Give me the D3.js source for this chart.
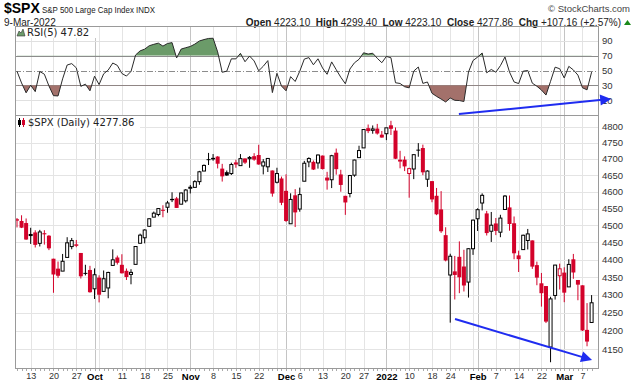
<!DOCTYPE html>
<html><head><meta charset="utf-8">
<script src="https://cdn.jsdelivr.net/npm/d3@7"></script>
<style>
html,body{margin:0;padding:0;background:#fff;}
svg{display:block;}
</style></head><body>
<svg id="chart" width="638" height="384"></svg>
<script>
// ---------------- DATA ----------------
const dates = [
"2021-09-08","2021-09-09","2021-09-10","2021-09-13","2021-09-14","2021-09-15","2021-09-16","2021-09-17","2021-09-20","2021-09-21","2021-09-22","2021-09-23","2021-09-24","2021-09-27","2021-09-28","2021-09-29","2021-09-30",
"2021-10-01","2021-10-04","2021-10-05","2021-10-06","2021-10-07","2021-10-08","2021-10-11","2021-10-12","2021-10-13","2021-10-14","2021-10-15","2021-10-18","2021-10-19","2021-10-20","2021-10-21","2021-10-22","2021-10-25","2021-10-26","2021-10-27","2021-10-28","2021-10-29",
"2021-11-01","2021-11-02","2021-11-03","2021-11-04","2021-11-05","2021-11-08","2021-11-09","2021-11-10","2021-11-11","2021-11-12","2021-11-15","2021-11-16","2021-11-17","2021-11-18","2021-11-19","2021-11-22","2021-11-23","2021-11-24","2021-11-26","2021-11-29","2021-11-30",
"2021-12-01","2021-12-02","2021-12-03","2021-12-06","2021-12-07","2021-12-08","2021-12-09","2021-12-10","2021-12-13","2021-12-14","2021-12-15","2021-12-16","2021-12-17","2021-12-20","2021-12-21","2021-12-22","2021-12-23","2021-12-27","2021-12-28","2021-12-29","2021-12-30","2021-12-31",
"2022-01-03","2022-01-04","2022-01-05","2022-01-06","2022-01-07","2022-01-10","2022-01-11","2022-01-12","2022-01-13","2022-01-14","2022-01-18","2022-01-19","2022-01-20","2022-01-21","2022-01-24","2022-01-25","2022-01-26","2022-01-27","2022-01-28","2022-01-31",
"2022-02-01","2022-02-02","2022-02-03","2022-02-04","2022-02-07","2022-02-08","2022-02-09","2022-02-10","2022-02-11","2022-02-14","2022-02-15","2022-02-16","2022-02-17","2022-02-18","2022-02-22","2022-02-23","2022-02-24","2022-02-25","2022-02-28",
"2022-03-01","2022-03-02","2022-03-03","2022-03-04","2022-03-07","2022-03-08","2022-03-09"];

const opens = [
4518.09,4513.02,4506.92,4474.81,4479.33,4447.49,4477.09,4469.74,4402.95,4374.45,4367.43,4406.75,4438.04,4442.12,4419.54,4362.41,4370.67,
4317.16,4348.84,4309.87,4319.57,4383.73,4406.51,4385.44,4368.31,4358.01,4386.75,4447.69,4463.72,4497.34,4524.42,4532.24,4546.12,4553.69,4578.69,4580.22,4562.84,4572.87,
4610.62,4613.34,4630.65,4662.93,4699.26,4701.48,4707.25,4670.26,4659.39,4655.24,4689.30,4679.42,4701.50,4700.72,4708.44,4712.00,4678.48,4675.78,4664.63,4628.75,4640.25,
4602.82,4504.73,4589.49,4548.37,4631.97,4690.86,4691.00,4687.64,4710.30,4642.99,4636.46,4719.13,4652.50,4587.90,4594.96,4650.36,4703.96,4733.99,4795.49,4788.64,4794.23,4775.21,
4778.14,4804.51,4787.99,4693.39,4697.66,4655.34,4669.14,4728.59,4733.56,4637.99,4632.24,4588.03,4547.35,4471.38,4356.32,4366.64,4408.43,4380.58,4336.19,4431.79,
4519.57,4566.39,4535.41,4482.79,4505.75,4480.02,4547.00,4553.24,4506.27,4412.61,4429.28,4455.75,4456.06,4384.57,4332.74,4324.93,4155.77,4298.38,4354.17,
4363.14,4322.56,4401.31,4342.12,4327.01,4202.66,4223.10];

const highs = [
4521.79,4529.90,4520.47,4492.99,4485.68,4486.87,4485.87,4471.52,4402.95,4394.87,4416.75,4465.40,4463.12,4457.30,4419.54,4385.57,4382.55,
4375.19,4355.51,4369.23,4365.57,4429.97,4412.02,4415.88,4374.89,4372.87,4439.73,4475.82,4488.75,4520.40,4540.87,4551.44,4559.67,4572.62,4598.53,4584.57,4597.55,4608.08,
4620.34,4635.15,4663.46,4683.00,4718.50,4714.92,4708.53,4684.85,4664.55,4688.47,4697.42,4714.95,4701.50,4708.80,4717.75,4743.83,4699.39,4702.87,4664.63,4672.95,4646.02,
4652.94,4595.46,4608.03,4612.60,4694.04,4705.06,4695.26,4713.57,4710.30,4660.47,4712.60,4731.99,4666.70,4587.90,4651.14,4697.67,4740.74,4791.49,4807.02,4804.06,4808.93,4786.83,
4796.64,4818.62,4797.70,4725.01,4707.95,4673.02,4714.13,4748.83,4744.13,4665.13,4632.24,4611.55,4602.11,4494.52,4417.35,4411.01,4453.23,4428.74,4432.72,4516.89,
4550.49,4595.31,4542.88,4539.66,4521.86,4531.32,4590.03,4588.92,4526.33,4426.22,4472.77,4489.55,4456.06,4394.60,4362.12,4325.04,4294.73,4385.34,4388.84,
4378.45,4401.48,4416.78,4342.12,4327.01,4276.94,4299.40];

const lows = [
4493.95,4492.07,4457.66,4445.70,4435.46,4438.37,4443.80,4427.76,4305.91,4347.96,4367.43,4406.75,4430.27,4436.19,4346.33,4355.08,4306.24,
4288.52,4278.94,4309.87,4290.49,4383.73,4386.22,4360.59,4342.09,4329.92,4386.75,4447.69,4447.47,4496.41,4524.40,4526.89,4524.00,4537.36,4569.17,4551.66,4562.84,4567.59,
4595.06,4613.34,4621.19,4662.59,4681.32,4694.39,4670.87,4630.86,4648.31,4650.77,4672.86,4679.42,4684.41,4672.78,4694.22,4682.17,4652.66,4659.89,4585.43,4625.26,4560.00,
4510.27,4504.73,4495.12,4540.51,4631.97,4674.52,4665.98,4670.24,4667.60,4606.52,4611.22,4651.89,4600.22,4531.10,4583.16,4645.53,4703.96,4733.99,4780.04,4778.08,4775.33,4765.75,
4758.17,4774.27,4699.44,4671.26,4662.74,4582.24,4638.27,4706.71,4650.29,4614.75,4568.70,4530.20,4477.95,4395.34,4222.62,4287.11,4304.80,4309.50,4292.46,4414.02,
4483.53,4544.32,4470.39,4451.50,4471.47,4465.40,4547.00,4484.31,4401.41,4364.84,4429.28,4429.68,4373.81,4327.22,4267.11,4221.51,4114.65,4286.83,4315.12,
4279.54,4322.56,4345.56,4284.98,4199.85,4157.87,4223.10];

const closes = [
4514.07,4493.28,4458.58,4468.73,4443.05,4480.70,4473.75,4432.99,4357.73,4354.19,4395.64,4448.98,4455.48,4443.11,4352.63,4359.46,4307.54,
4357.04,4300.46,4345.72,4363.55,4399.76,4391.34,4361.19,4350.65,4363.80,4438.26,4471.37,4486.46,4519.63,4536.19,4549.78,4544.90,4566.48,4574.79,4551.68,4596.42,4605.38,
4613.67,4630.65,4660.57,4680.06,4697.53,4701.70,4685.25,4646.71,4649.27,4682.85,4682.80,4700.90,4688.67,4704.54,4697.96,4682.94,4690.70,4701.46,4594.62,4655.27,4567.00,
4513.04,4577.10,4538.43,4591.67,4686.75,4701.21,4667.45,4712.02,4668.97,4634.09,4709.85,4668.67,4620.64,4568.02,4649.23,4696.56,4725.79,4791.19,4786.35,4793.06,4778.73,4766.18,
4796.56,4793.54,4700.58,4696.05,4677.03,4670.29,4713.07,4726.35,4659.03,4662.85,4577.11,4532.76,4482.73,4397.94,4410.13,4356.45,4349.93,4326.51,4431.85,4515.55,
4546.54,4589.38,4477.44,4500.53,4483.87,4521.54,4587.18,4504.08,4418.64,4401.67,4471.07,4475.01,4380.26,4348.87,4304.76,4225.50,4288.70,4384.65,4373.94,
4306.26,4386.54,4363.49,4328.87,4201.09,4170.70,4277.86];

const prevClose = 4520.03; // close of the session before the first bar

const rsi5 = [
48.9,33.2,19.9,30.1,21.5,48.6,45.0,29.2,16.1,15.7,38.7,57.4,59.3,53.6,28.6,31.6,22.6,
42.3,31.0,45.5,50.6,60.1,56.9,46.0,42.5,48.7,70.9,76.5,78.8,83.4,85.3,86.9,82.9,86.4,87.6,66.9,78.9,80.7,
82.4,85.6,89.8,91.7,93.2,93.5,75.1,47.6,49.1,65.7,65.7,73.1,61.8,69.5,62.9,49.6,55.7,63.3,20.2,46.2,29.0,
22.6,41.7,35.2,49.0,65.4,67.4,57.7,65.8,53.4,44.9,61.6,51.1,40.9,32.1,52.0,60.4,65.1,73.9,72.2,73.3,66.5,60.5,
69.0,67.2,33.5,32.5,28.1,26.6,49.2,54.7,32.6,34.5,19.3,15.1,11.5,7.6,12.9,9.8,9.5,8.2,47.9,63.5,
68.0,73.6,46.9,51.4,47.7,56.5,68.2,47.9,34.6,32.4,49.1,50.0,32.9,28.8,23.7,16.9,35.4,54.5,52.4,
39.9,55.6,50.8,43.8,26.7,23.9,47.8];

const xTickDates  = ["2021-09-13","2021-09-20","2021-09-27","2021-10-01","2021-10-11","2021-10-18","2021-10-25","2021-11-01","2021-11-08","2021-11-15","2021-11-22","2021-12-01","2021-12-06","2021-12-13","2021-12-20","2021-12-27","2022-01-03","2022-01-10","2022-01-18","2022-01-24","2022-02-01","2022-02-07","2022-02-14","2022-02-22","2022-03-01","2022-03-07"];
const xTickLabels = ["13","20","27","Oct","11","18","25","Nov","8","15","22","Dec","6","13","20","27","2022","10","18","24","Feb","7","14","22","Mar","7"];
const boldLabels  = ["Oct","Nov","Dec","2022","Feb","Mar"];
const extraGridDates = ["2021-10-04","2021-11-29","2022-01-31","2022-02-28"];
const priceTicks = [4150,4200,4250,4300,4350,4400,4450,4500,4550,4600,4650,4700,4750,4800];
const rsiTicks = [90,70,50,30,10];

// annotation arrows, in data units: [barIndex, value]
const rsiArrow   = {from:[96.9,-8.6], to:[130.3,11.6]};
const priceArrow = {from:[96.05,4232.6], to:[126.1,4120.8]};

// ---------------- LAYOUT ----------------
const svg = d3.select("#chart");
const L = 15, R = 599;
const rsiTop = 26, rsiBot = 115, pTop = 115, pBot = 369;
const FONT = "'Liberation Sans', Arial, sans-serif";
const LFONT = "'DejaVu Sans', Verdana, sans-serif";
const RED = "#d3022a";

const x = d3.scaleLinear().domain([0, dates.length - 1]).range([17, 591.6]);
const idx = new Map(dates.map((d,i)=>[d,i]));
const yP = d3.scaleLog().domain([4096.5, 4837]).range([pBot, pTop]);
const yR = d3.scaleLinear().domain([-10, 110]).range([rsiBot, rsiTop]);

svg.append("rect").attr("width",638).attr("height",384).attr("fill","#fff");

const defs = svg.append("defs");
defs.append("clipPath").attr("id","clipRsiHi").append("rect")
  .attr("x",L).attr("y",rsiTop).attr("width",R-L).attr("height",yR(70)-rsiTop);
defs.append("clipPath").attr("id","clipRsiLo").append("rect")
  .attr("x",L).attr("y",yR(30)).attr("width",R-L).attr("height",rsiBot-yR(30));
defs.append("clipPath").attr("id","clipRsi").append("rect")
  .attr("x",L).attr("y",rsiTop).attr("width",R-L).attr("height",rsiBot-rsiTop);
defs.append("clipPath").attr("id","clipPrice").append("rect")
  .attr("x",L).attr("y",pTop).attr("width",R-L).attr("height",pBot-pTop);

// ---------------- HEADER ----------------
svg.append("text").attr("x",4).attr("y",13).attr("font-family",FONT).attr("font-size",14)
  .attr("font-weight","bold").attr("fill","#000").text("$SPX");
svg.append("text").attr("x",42).attr("y",12.5).attr("font-family",FONT).attr("font-size",9)
  .attr("textLength",113).attr("lengthAdjust","spacingAndGlyphs")
  .attr("fill","#222").text("S&P 500 Large Cap Index  INDX");
svg.append("text").attr("x",4).attr("y",26).attr("font-family",FONT).attr("font-size",10)
  .attr("fill","#222").text("9-Mar-2022");
svg.append("text").attr("x",630).attr("y",12).attr("text-anchor","end").attr("font-family",FONT)
  .attr("font-size",9.5).attr("fill","#444").text("© StockCharts.com");

const hdr = svg.append("text").attr("x",621).attr("y",26).attr("text-anchor","end")
  .attr("font-family",FONT).attr("font-size",10).attr("fill","#222").attr("style","white-space:pre");
[["Open",true],[" 4223.10  ",false],["High",true],[" 4299.40  ",false],["Low",true],[" 4223.10  ",false],
 ["Close",true],[" 4277.86  ",false],["Chg",true],[" +107.16 (+2.57%)",false]].forEach(([t,b])=>{
  hdr.append("tspan").attr("font-weight",b?"bold":"normal").text(t);
});
svg.append("path").attr("d","M624,25 L631,25 L627.5,20 Z").attr("fill","#1a8a1a");

// ---------------- GRIDS ----------------
const gridDates = xTickDates.concat(extraGridDates);
function vGrid(top, bot){
  const g = svg.append("g");
  g.selectAll("line").data(gridDates).join("line")
    .attr("x1",d=>Math.round(x(idx.get(d)))+0.5).attr("x2",d=>Math.round(x(idx.get(d)))+0.5)
    .attr("y1",top).attr("y2",bot)
    .attr("stroke",d=>{const k=xTickDates.indexOf(d); return (k>=0 && boldLabels.includes(xTickLabels[k]))?"#c4c4c4":"#e4e4e4";})
    .attr("stroke-width",1);
}
vGrid(rsiTop, rsiBot);
vGrid(pTop, pBot);

// price horizontal grid
svg.append("g").selectAll("line").data(priceTicks).join("line")
  .attr("x1",L).attr("x2",R).attr("y1",d=>Math.round(yP(d))+0.5).attr("y2",d=>Math.round(yP(d))+0.5)
  .attr("stroke","#e4e4e4");

// RSI horizontal grid
svg.append("g").selectAll("line").data(rsiTicks).join("line")
  .attr("x1",L).attr("x2",R).attr("y1",d=>Math.round(yR(d))+0.5).attr("y2",d=>Math.round(yR(d))+0.5)
  .attr("stroke",d=>(d===70||d===30||d===50)?"#8c8c8c":"#e0e0e0")
  .attr("stroke-dasharray",d=>d===50?"6,2,1,2":null);

// ---------------- RSI ----------------
const areaFn = base => d3.area().x((d,i)=>x(i)).y0(yR(base)).y1(d=>yR(d));
svg.append("path").datum(rsi5).attr("d",areaFn(70)).attr("fill","#6b9b69").attr("clip-path","url(#clipRsiHi)");
svg.append("path").datum(rsi5).attr("d",areaFn(30)).attr("fill","#a3716b").attr("clip-path","url(#clipRsiLo)");
svg.append("path").datum(rsi5).attr("d",d3.line().x((d,i)=>x(i)).y(d=>yR(d)))
  .attr("fill","none").attr("stroke","#2a2a2a").attr("stroke-width",1).attr("clip-path","url(#clipRsi)");

// ---------------- CANDLES ----------------
const bars = dates.map((d,i)=>({i, o:opens[i], h:highs[i], l:lows[i], c:closes[i], pc: i===0?prevClose:closes[i-1]}));
const cg = svg.append("g").attr("clip-path","url(#clipPrice)");
const colorOf = b => b.c >= b.pc ? "#000" : RED;
cg.selectAll("line.wick").data(bars).join("line").attr("class","wick")
  .attr("x1",b=>x(b.i)).attr("x2",b=>x(b.i)).attr("y1",b=>yP(b.h)).attr("y2",b=>yP(b.l))
  .attr("stroke",colorOf).attr("stroke-width",1);
cg.selectAll("rect.body").data(bars).join("rect").attr("class","body")
  .attr("x",b=> b.c>=b.o ? x(b.i)-1.5 : x(b.i)-2)
  .attr("width",b=> b.c>=b.o ? 3 : 4)
  .attr("y",b=>yP(Math.max(b.o,b.c)))
  .attr("height",b=>Math.max(Math.abs(yP(b.o)-yP(b.c)), b.c>=b.o?0.5:1))
  .attr("fill",b=> b.c>=b.o ? "#fff" : colorOf(b))
  .attr("stroke",b=> b.c>=b.o ? colorOf(b) : "none")
  .attr("stroke-width",1);

// ---------------- FRAMES ----------------
svg.append("rect").attr("x",L+0.5).attr("y",rsiTop+0.5).attr("width",R-L-1).attr("height",rsiBot-rsiTop)
  .attr("fill","none").attr("stroke","#9a9a9a");
svg.append("rect").attr("x",L+0.5).attr("y",pTop+0.5).attr("width",R-L-1).attr("height",pBot-pTop-1)
  .attr("fill","none").attr("stroke","#9a9a9a");

// day ticks on bottom axis
svg.append("g").selectAll("line").data(dates).join("line")
  .attr("x1",(d,i)=>Math.round(x(i))+0.5).attr("x2",(d,i)=>Math.round(x(i))+0.5)
  .attr("y1",pBot).attr("y2",pBot+2).attr("stroke","#aaa");

// ---------------- AXES ----------------
const yAxisP = d3.axisRight(yP).tickValues(priceTicks).tickFormat(d3.format("d")).tickSize(0).tickPadding(3);
const ga = svg.append("g").attr("transform",`translate(${R},0)`).call(yAxisP);
ga.select(".domain").remove();
ga.selectAll("text").attr("font-family",FONT).attr("font-size",9.5).attr("fill","#333");

const yAxisR = d3.axisRight(yR).tickValues(rsiTicks).tickSize(0).tickPadding(3);
const gr = svg.append("g").attr("transform",`translate(${R},0)`).call(yAxisR);
gr.select(".domain").remove();
gr.selectAll("text").attr("font-family",FONT).attr("font-size",9.5).attr("fill","#333");

const xAxis = d3.axisBottom(x).tickValues(xTickDates.map(d=>idx.get(d)))
  .tickFormat((d,k)=>xTickLabels[k]).tickSize(0).tickPadding(4);
const gx = svg.append("g").attr("transform",`translate(0,${pBot})`).call(xAxis);
gx.select(".domain").remove();
gx.selectAll("text").attr("font-family",FONT)
  .attr("font-size",(d,k)=>boldLabels.includes(xTickLabels[k])?9.5:9)
  .attr("font-weight",(d,k)=>boldLabels.includes(xTickLabels[k])?"bold":"normal")
  .attr("fill",(d,k)=>boldLabels.includes(xTickLabels[k])?"#000":"#333");

// ---------------- PANEL LABELS ----------------
svg.append("rect").attr("x",L+1).attr("y",rsiTop+1).attr("width",80).attr("height",11).attr("fill","#fff");
svg.append("path").attr("d","M17,36 L19,31 L21,33 L23,29 L25,36 Z").attr("fill","#6b9b69").attr("stroke","#333").attr("stroke-width",0.6);
svg.append("text").attr("x",27).attr("y",35.5).attr("font-family",LFONT).attr("font-size",10)
  .attr("fill","#222").text("RSI(5) 47.82");

svg.append("rect").attr("x",L+1).attr("y",pTop+1).attr("width",124).attr("height",12).attr("fill","#fff");
svg.append("line").attr("x1",19.5).attr("x2",19.5).attr("y1",118).attr("y2",127).attr("stroke","#000");
svg.append("rect").attr("x",18).attr("y",120).attr("width",3).attr("height",5).attr("fill","#000");
svg.append("line").attr("x1",23.5).attr("x2",23.5).attr("y1",118).attr("y2",127).attr("stroke",RED);
svg.append("rect").attr("x",22).attr("y",120).attr("width",3).attr("height",5).attr("fill",RED);
svg.append("text").attr("x",28).attr("y",125.5).attr("font-family",LFONT).attr("font-size",10)
  .attr("fill","#222").text("$SPX (Daily) 4277.86");

// ---------------- ARROWS ----------------
function arrow(a, ys){
  const x1=x(a.from[0]), y1=ys(a.from[1]), x2=x(a.to[0]), y2=ys(a.to[1]);
  const dx=x2-x1, dy=y2-y1, len=Math.hypot(dx,dy), ux=dx/len, uy=dy/len;
  const hl=11, hw=5.5;
  const bx=x2-ux*hl, by=y2-uy*hl;
  svg.append("line").attr("x1",x1).attr("y1",y1).attr("x2",bx+ux*2).attr("y2",by+uy*2)
    .attr("stroke","#1f2cf0").attr("stroke-width",2);
  svg.append("path").attr("d",`M${x2},${y2} L${bx-uy*hw},${by+ux*hw} L${bx+uy*hw},${by-ux*hw} Z`)
    .attr("fill","#1f2cf0");
}
arrow(rsiArrow, yR);
arrow(priceArrow, yP);
</script>
</body></html>
